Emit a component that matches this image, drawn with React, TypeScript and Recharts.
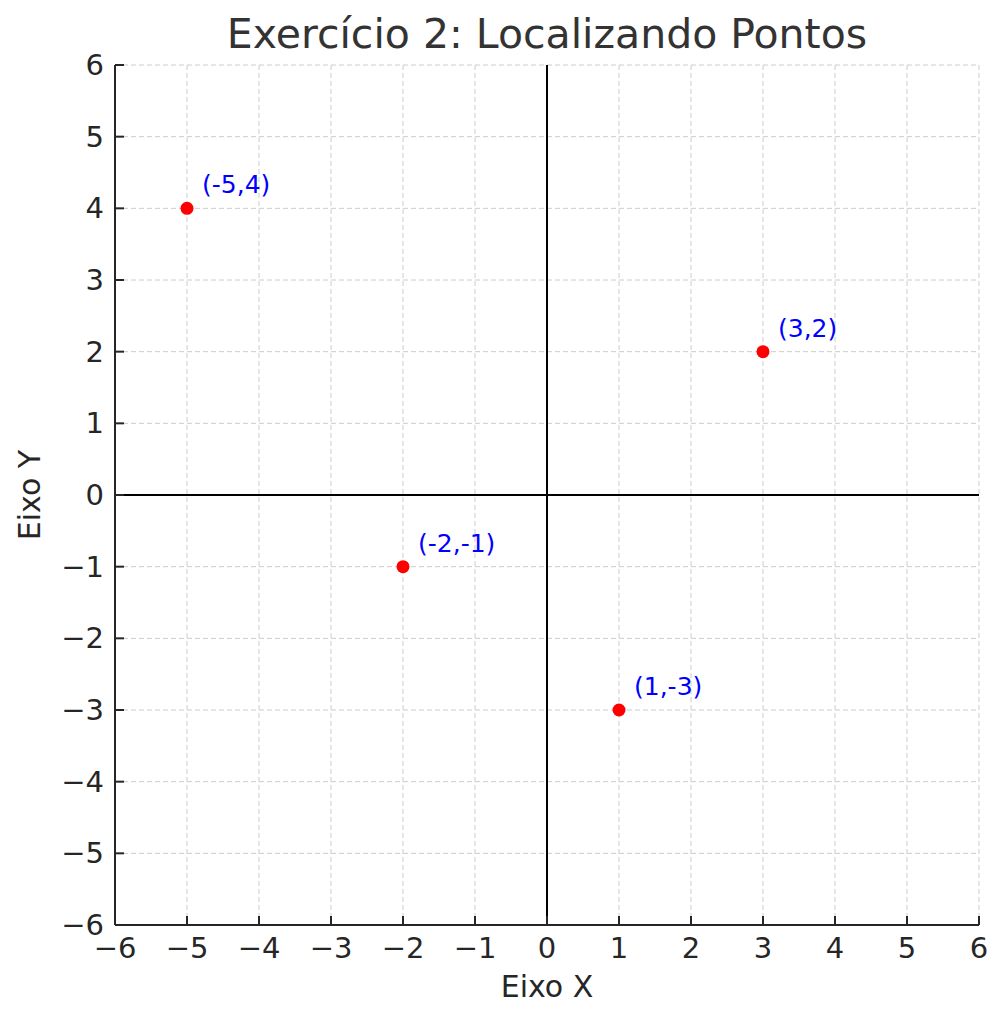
import React from 'react'
import { ScatterChart, Scatter, XAxis, YAxis, CartesianGrid, ReferenceLine } from 'recharts'

const pointX = [-5, 3, -2, 1]
const pointY = [4, 2, -1, -3]
const pointLabels = ['(-5,4)', '(3,2)', '(-2,-1)', '(1,-3)']
const axisTicks = [-6, -5, -4, -3, -2, -1, 0, 1, 2, 3, 4, 5, 6]

const data = pointX.map((x, i) => ({ x, y: pointY[i], label: pointLabels[i] }))

const FONT = '"DejaVu Sans", sans-serif'
const TEXT = '#262626'

const fmt = (v: number) => (v < 0 ? `\u2212${Math.abs(v)}` : `${v}`)

function XTick(props: any) {
  const { x, y, payload } = props
  return (
    <g>
      <line x1={x} x2={x} y1={y} y2={y - 9} stroke={TEXT} strokeWidth={2} />
      <text x={x} y={y + 33} textAnchor="middle" fontSize={29} fill={TEXT} fontFamily={FONT}>
        {fmt(payload.value)}
      </text>
    </g>
  )
}

function YTick(props: any) {
  const { x, y, payload } = props
  return (
    <g>
      <line x1={x} x2={x + 9} y1={y} y2={y} stroke={TEXT} strokeWidth={2} />
      <text x={x - 11} y={y + 10} textAnchor="end" fontSize={29} fill={TEXT} fontFamily={FONT}>
        {fmt(payload.value)}
      </text>
    </g>
  )
}

function Dot(props: any) {
  const { cx, cy, payload } = props
  return (
    <g>
      <circle cx={cx} cy={cy} r={6.5} fill="#ff0000" />
      <text x={cx + 15} y={cy - 15} fontSize={25} fill="#0000ff" fontFamily={FONT}>
        {payload.label}
      </text>
    </g>
  )
}

export default function App() {
  return (
    <div style={{ position: 'absolute', left: 0, top: 0, width: 1007, height: 1024, background: '#fff', fontFamily: FONT }}>
      <ScatterChart width={1007} height={1024} margin={{ top: 65, right: 28, bottom: 0, left: 0 }}>
        <CartesianGrid stroke="#cccccc" strokeDasharray="5 3" />
        <XAxis
          type="number"
          dataKey="x"
          domain={[-6, 6]}
          ticks={axisTicks}
          height={99}
          tickSize={0}
          tickMargin={0}
          tickLine={false}
          axisLine={{ stroke: TEXT, strokeWidth: 2 }}
          tick={<XTick />}
          interval={0}
        />
        <YAxis
          type="number"
          dataKey="y"
          domain={[-6, 6]}
          ticks={axisTicks}
          width={115}
          tickSize={0}
          tickMargin={0}
          tickLine={false}
          axisLine={{ stroke: TEXT, strokeWidth: 2 }}
          tick={<YTick />}
          interval={0}
        />
        <ReferenceLine x={0} stroke="#000" strokeWidth={2} />
        <ReferenceLine y={0} stroke="#000" strokeWidth={2} />
        <Scatter data={data} shape={<Dot />} isAnimationActive={false} />
      </ScatterChart>
      <div style={{ position: 'absolute', left: 115, width: 864, top: 10, textAlign: 'center', fontSize: 41, color: '#333', lineHeight: '48px' }}>
        Exercício 2: Localizando Pontos
      </div>
      <div style={{ position: 'absolute', left: 115, width: 864, top: 969, textAlign: 'center', fontSize: 30, color: TEXT, lineHeight: '36px' }}>
        Eixo X
      </div>
      <div
        style={{
          position: 'absolute',
          left: 30,
          top: 495,
          transform: 'translate(-50%, -50%) rotate(-90deg)',
          fontSize: 30,
          color: TEXT,
          lineHeight: '36px',
          whiteSpace: 'nowrap',
        }}
      >
        Eixo Y
      </div>
    </div>
  )
}
